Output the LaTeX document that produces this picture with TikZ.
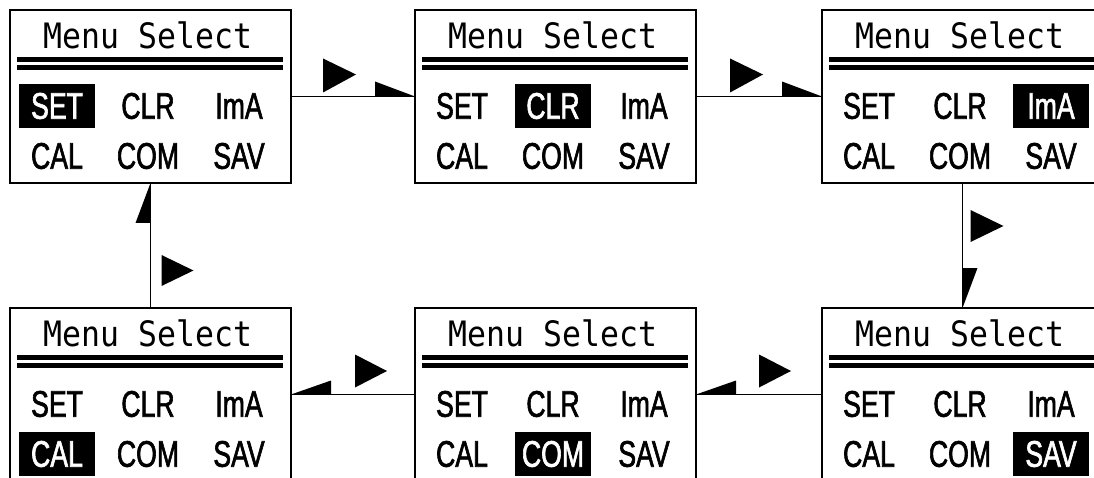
\documentclass[tikz,border=0pt]{standalone}
\usepackage{fontspec}
\usetikzlibrary{calc}
\newfontfamily\menufont[FakeStretch=0.9]{DejaVu Sans Mono}
\newfontfamily\itemfont[FakeStretch=0.72,FakeBold=1.6]{Liberation Sans}
\tikzset{
  panelbox/.style={draw, line width=2pt, minimum width=281pt, minimum height=173pt, inner sep=0pt, outer sep=0pt},
  titletext/.style={font=\menufont\fontsize{35}{35}\selectfont, inner sep=0pt},
  item/.style={font=\itemfont\fontsize{37}{37}\selectfont, inner sep=0pt, minimum width=76pt, minimum height=44pt},
  sel/.style={fill=black, text=white},
  dbl/.style={line width=4.5pt},
  conn/.style={line width=1.5pt},
  tipshape/.style={fill=black}
}
\newcommand\menupanel[4]{%
  \node[panelbox] (#1) at (#2+140.5,#3+86.5) {};
  \node[titletext] (#1-t) at ($(#1.north west)+(138,25)$) {Menu Select};
  \draw[dbl] ($(#1.north west)+(7,49.5)$) -- ($(#1.north west)+(273,49.5)$);
  \draw[dbl] ($(#1.north west)+(7,57.5)$) -- ($(#1.north west)+(273,57.5)$);
  \foreach \lab/\dx/\dy [count=\k] in {SET/47/96,CLR/138/96,ImA/229/96,CAL/47/146,COM/138/146,SAV/229/146}{%
    \ifnum\k=#4\relax
      \node[item,sel] (#1-\k) at ($(#1.north west)+(\dx,\dy)$) {\lab};
    \else
      \node[item] (#1-\k) at ($(#1.north west)+(\dx,\dy)$) {\lab};
    \fi
  }%
}
\begin{document}
\begin{tikzpicture}[x=1pt,y=-1pt]
\clip (0,0) rectangle (1094,478);
\fill[white] (0,0) rectangle (1094,478);
\menupanel{b1}{10}{10}{1}
\menupanel{b2}{415}{10}{2}
\menupanel{b3}{822}{10}{3}
\menupanel{b4}{10}{308}{4}
\menupanel{b5}{415}{308}{5}
\menupanel{b6}{822}{308}{6}
% b1 -> b2
\draw[conn] (b1.east) -- (b2.west);
\fill[tipshape] (b2.west) -- ++(-40,0) -- ++(0,-15) -- cycle;
\fill[tipshape] ($(b2.west)+(-92,-38)$) -- ++(0,34) -- ++(33,-18) -- cycle;
% b2 -> b3
\draw[conn] (b2.east) -- (b3.west);
\fill[tipshape] (b3.west) -- ++(-40,0) -- ++(0,-15) -- cycle;
\fill[tipshape] ($(b3.west)+(-92,-38)$) -- ++(0,34) -- ++(33,-18) -- cycle;
% b3 -> b6
\draw[conn] (b3.south) -- (b6.north);
\fill[tipshape] (b6.north) -- ++(0,-40) -- ++(15,0) -- cycle;
\fill[tipshape] ($(b6.north)+(8,-98)$) -- ++(0,32) -- ++(33,-16) -- cycle;
% b6 -> b5
\draw[conn] (b6.west) -- (b5.east);
\fill[tipshape] (b5.east) -- ++(40,0) -- ++(0,-14) -- cycle;
\fill[tipshape] ($(b5.east)+(63,-40)$) -- ++(0,33) -- ++(32,-16.5) -- cycle;
% b5 -> b4
\draw[conn] (b5.west) -- (b4.east);
\fill[tipshape] (b4.east) -- ++(40,0) -- ++(0,-14) -- cycle;
\fill[tipshape] ($(b4.east)+(64,-40)$) -- ++(0,33) -- ++(32,-16.5) -- cycle;
% b4 -> b1
\draw[conn] (b4.north) -- (b1.south);
\fill[tipshape] (b1.south) -- ++(0,40) -- ++(-15,0) -- cycle;
\fill[tipshape] ($(b1.south)+(11,72)$) -- ++(0,31) -- ++(32,-15.5) -- cycle;
\end{tikzpicture}
\end{document}
